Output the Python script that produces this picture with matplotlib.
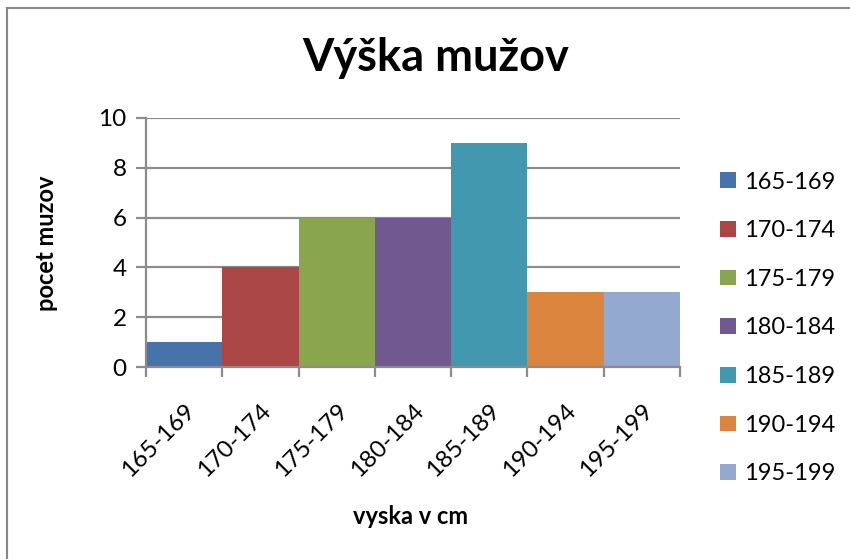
"""Histogram of men's heights, Excel-2007 look."""
import matplotlib.pyplot as plt
from matplotlib.lines import Line2D
from matplotlib.transforms import ScaledTranslation

plt.rcParams['font.family'] = ['Lato', 'DejaVu Sans']

CATEGORIES = ["165-169", "170-174", "175-179", "180-184", "185-189", "190-194", "195-199"]
COUNTS = [1, 4, 6, 6, 9, 3, 3]
COLORS = ["#4674AA", "#AA4644", "#89A54E", "#71588F", "#4198AF", "#DB843D", "#93A9CF"]

GRID = "#8C8C8C"


def main():
    fig = plt.figure(figsize=(8.5, 5.59), dpi=100)
    ax = fig.add_axes([146 / 850, 1 - 367 / 559, (680 - 146) / 850, (367 - 118) / 559])

    x = range(len(CATEGORIES))
    for i, (cat, val, col) in enumerate(zip(CATEGORIES, COUNTS, COLORS)):
        ax.bar(i, val, width=1.0, color=col, label=cat, zorder=3, linewidth=0)

    ax.set_xlim(-0.5, len(CATEGORIES) - 0.5)
    ax.set_ylim(0, 10)
    ax.set_yticks(range(0, 11, 2))
    ax.yaxis.grid(True, color=GRID, linewidth=1.6, zorder=0)
    ax.set_axisbelow(True)

    ax.set_xticks(list(x))
    ax.set_xticklabels(CATEGORIES, rotation=45, ha="right", va="top",
                       rotation_mode="anchor", fontsize=17.5)
    shift = ScaledTranslation(3 / 100, 0, fig.dpi_scale_trans)
    for lab in ax.get_xticklabels():
        lab.set_transform(lab.get_transform() + shift)
    ax.set_xticks([i - 0.5 for i in range(len(CATEGORIES) + 1)], minor=True)
    ax.tick_params(axis="x", which="major", length=0, pad=24)
    ax.tick_params(axis="x", which="minor", length=7, width=1.6, color=GRID, direction="out")
    ax.tick_params(axis="y", length=7, width=1.6, color=GRID, direction="out", labelsize=17.5, pad=7)

    for side in ("top", "right"):
        ax.spines[side].set_visible(False)
    for side in ("left", "bottom"):
        ax.spines[side].set_color(GRID)
        ax.spines[side].set_linewidth(1.6)
        ax.spines[side].set_zorder(4)

    fig.text(436 / 850, 1 - 58 / 559, "Výška mužov", ha="center", va="center",
             fontsize=32.5, fontweight="bold")
    fig.text(411 / 850, 1 - 517 / 559, "vyska v cm", ha="center", va="center",
             fontsize=17, fontweight="bold")
    fig.text(46 / 850, 1 - 243 / 559, "pocet muzov", ha="center", va="center",
             rotation=90, fontsize=17, fontweight="bold")

    ax.legend(loc="center left", bbox_to_anchor=(711 / 850, 1 - 328 / 559),
              bbox_transform=fig.transFigure, frameon=False, fontsize=17,
              handlelength=0.65, handleheight=0.65, handletextpad=0.35,
              labelspacing=1.17, borderaxespad=0)

    # chart-area frame (only left and top edges are visible in the crop)
    fig.add_artist(Line2D([7 / 850, 7 / 850], [0, 1 - 8 / 559],
                          transform=fig.transFigure, color="#888888", linewidth=1.5))
    fig.add_artist(Line2D([7 / 850, 1], [1 - 8 / 559, 1 - 8 / 559],
                          transform=fig.transFigure, color="#888888", linewidth=1.5))

    fig.savefig("out.png", dpi=100)


if __name__ == "__main__":
    main()
